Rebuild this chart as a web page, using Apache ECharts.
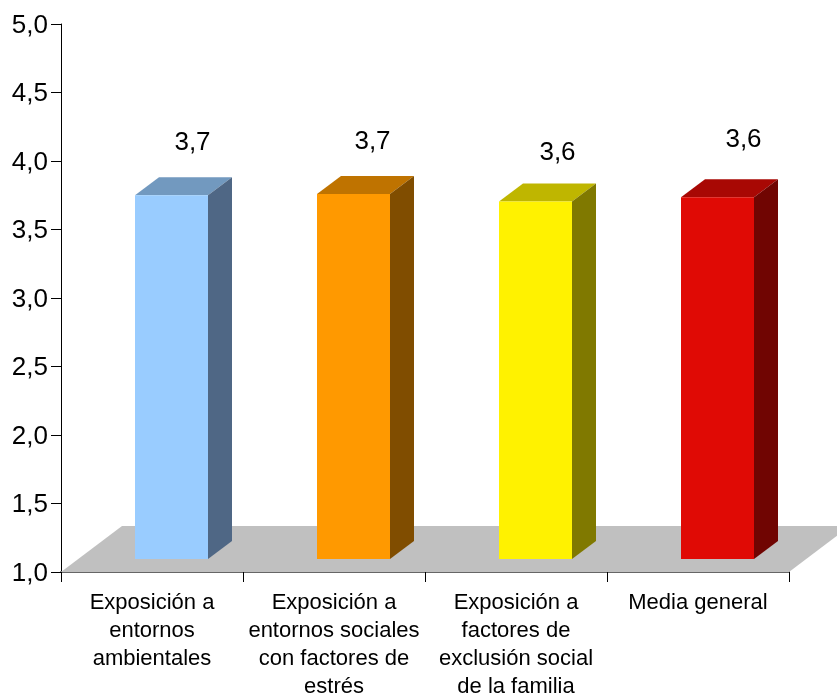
<!DOCTYPE html>
<html>
<head>
<meta charset="utf-8">
<style>html,body{margin:0;padding:0;background:#fff}#chart{width:837px;height:694px}</style>
<script src="https://cdn.jsdelivr.net/npm/echarts@6/dist/echarts.min.js"></script>
</head>
<body>
<div id="chart"></div>
<script>
const categories = [
  'Exposición a\nentornos\nambientales',
  'Exposición a\nentornos sociales\ncon factores de\nestrés',
  'Exposición a\nfactores de\nexclusión social\nde la familia',
  'Media general'
];
const values = [3.655, 3.665, 3.61, 3.64];
const frontColors = ['#99CCFF', '#FF9900', '#FFF200', '#E00A05'];
const topColors = ['#7299BF', '#BF7300', '#BFB600', '#A80804'];
const sideColors = ['#4F6785', '#804D00', '#807900', '#700502'];
const yTicks = { min: 1, max: 5, interval: 0.5 };

// Oblique projection used for the floor and the bar boxes (pixels).
const FLOOR_DEPTH = [61, -46];
const BAR_DEPTH = [24, -18];
const BAR_SHIFT = [19.5, -13];
const BAR_WIDTH = 73;
const LABEL_NUDGE = [[21, -53], [19, -53], [22, -50], [26, -58]];

const comma = (v, d) => v.toFixed(d).replace('.', ',');

function renderFloor(params, api) {
  if (params.dataIndex !== 0) return null;
  const band = api.size([1, 0])[0];
  const a = api.coord([0, yTicks.min]);
  const left = [a[0] - band / 2, a[1]];
  const right = [left[0] + band * categories.length, a[1]];
  return {
    type: 'polygon',
    shape: { points: [
      left, right,
      [right[0] + FLOOR_DEPTH[0], right[1] + FLOOR_DEPTH[1]],
      [left[0] + FLOOR_DEPTH[0], left[1] + FLOOR_DEPTH[1]]
    ] },
    style: { fill: '#C0C0C0' }
  };
}

function renderBox(params, api) {
  const i = api.value(0);
  const v = api.value(1);
  const top = api.coord([i, v]);
  const base = api.coord([i, yTicks.min]);
  const x0 = top[0] + BAR_SHIFT[0] - BAR_WIDTH / 2;
  const x1 = x0 + BAR_WIDTH;
  const yt = top[1] + BAR_SHIFT[1];
  const yb = base[1] + BAR_SHIFT[1];
  const dx = BAR_DEPTH[0], dy = BAR_DEPTH[1];
  const n = LABEL_NUDGE[i];
  return {
    type: 'group',
    children: [
      { type: 'polygon', shape: { points: [[x0, yt], [x1, yt], [x1 + dx, yt + dy], [x0 + dx, yt + dy]] }, style: { fill: topColors[i] } },
      { type: 'polygon', shape: { points: [[x1, yt], [x1 + dx, yt + dy], [x1 + dx, yb + dy], [x1, yb]] }, style: { fill: sideColors[i] } },
      { type: 'rect', shape: { x: x0, y: yt, width: BAR_WIDTH, height: yb - yt }, style: { fill: frontColors[i] } },
      { type: 'text', style: {
          x: (x0 + x1) / 2 + n[0], y: yt + n[1] + 1, text: comma(v, 1),
          fill: '#000', font: '26px "Liberation Sans", Arial, sans-serif',
          align: 'center', verticalAlign: 'middle'
      } }
    ]
  };
}

const chart = echarts.init(document.getElementById('chart'), null, { renderer: 'canvas' });
chart.setOption({
  animation: false,
  backgroundColor: '#fff',
  grid: { left: 61, top: 24, width: 728, height: 548, outerBoundsMode: 'none' },
  xAxis: {
    type: 'category',
    data: categories,
    boundaryGap: true,
    axisLine: { show: true, lineStyle: { color: '#666', width: 2 } },
    axisTick: { show: true, length: 10, alignWithLabel: false, lineStyle: { color: '#000', width: 1 } },
    axisLabel: {
      interval: 0, margin: 17, color: '#000', lineHeight: 28,
      fontFamily: '"Liberation Sans", Arial, sans-serif', fontSize: 22
    },
    splitLine: { show: false }
  },
  yAxis: {
    type: 'value',
    min: yTicks.min, max: yTicks.max, interval: yTicks.interval,
    axisLine: { show: true, lineStyle: { color: '#000', width: 1 } },
    axisTick: { show: true, length: 10, lineStyle: { color: '#000', width: 1 } },
    axisLabel: {
      margin: 13,
      formatter: v => '{tick|' + comma(v, 1) + '}',
      rich: {
        tick: {
          color: '#000', fontFamily: '"Liberation Sans", Arial, sans-serif', fontSize: 26,
          padding: [3, 0, 0, 0]
        }
      }
    },
    splitLine: { show: false }
  },
  series: [
    { type: 'custom', clip: false, z: 1, renderItem: renderFloor, data: values.map((v, i) => [i, v]), encode: { x: 0, y: 1 } },
    { type: 'custom', clip: false, z: 3, renderItem: renderBox, data: values.map((v, i) => [i, v]), encode: { x: 0, y: 1 } }
  ]
});
</script>
</body>
</html>
